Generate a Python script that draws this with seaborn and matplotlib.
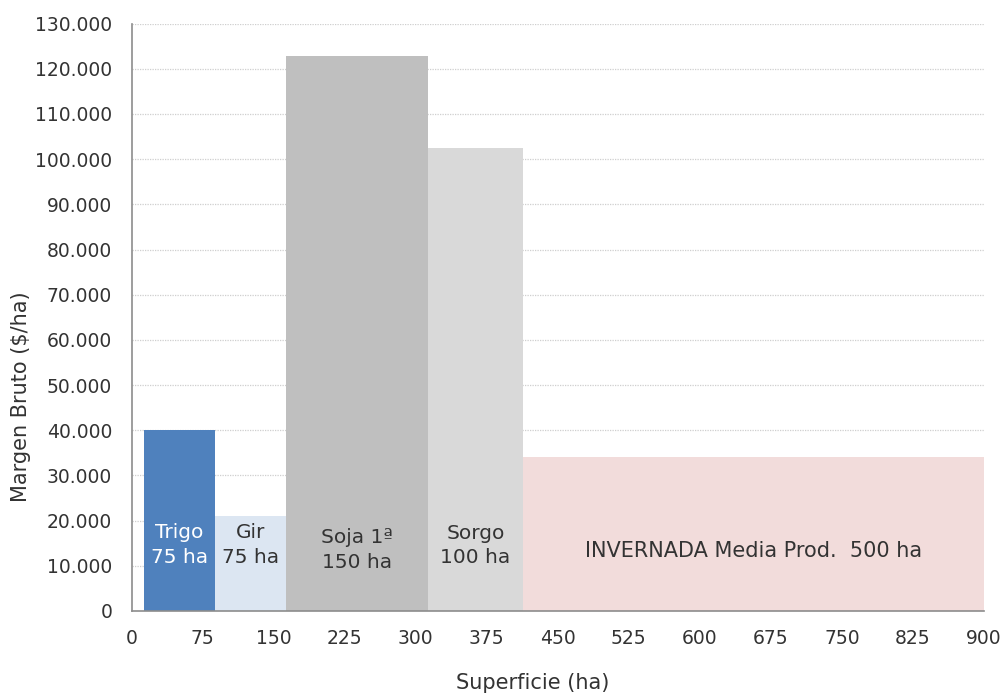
import numpy as np
import pandas as pd
import matplotlib
matplotlib.use("Agg")
import matplotlib.pyplot as plt
import seaborn as sns
from matplotlib.ticker import FuncFormatter

# data
cultivos = ["Trigo", "Gir", "Soja 1ª", "Sorgo", "INVERNADA Media Prod."]
superficie = [75, 75, 150, 100, 500]          # ha (bar widths)
margen = [40000, 20900, 122800, 102400, 34000]  # $/ha (bar heights)
etiquetas = ["Trigo\n75 ha", "Gir\n75 ha", "Soja 1ª\n150 ha", "Sorgo\n100 ha",
             "INVERNADA Media Prod.  500 ha"]
colores = ["#4F81BD", "#DCE6F2", "#BFBFBF", "#D9D9D9", "#F2DCDB"]
inicio = 13  # first bar starts a bit right of 0 in the original
x_ticks = list(range(0, 901, 75))
y_ticks = list(range(0, 130001, 10000))

edges = inicio + np.concatenate([[0], np.cumsum(superficie)])
mid = (edges[:-1] + edges[1:]) / 2
df = pd.DataFrame({"cultivo": cultivos, "x": mid, "margen": margen})

sns.set_style("white")
plt.rcParams["font.family"] = ["DejaVu Sans"]
txt = "#333333"

fig = plt.figure(figsize=(10.05, 6.95), dpi=100)
ax = fig.add_axes([0.131, 0.121, 0.848, 0.845])

sns.histplot(data=df, x="x", weights="margen", hue="cultivo", bins=edges.tolist(),
             palette=dict(zip(cultivos, colores)), alpha=1, linewidth=0,
             legend=False, ax=ax, zorder=2)

ax.set_xlim(0, 900)
ax.set_ylim(0, 130000)
ax.set_xticks(x_ticks)
ax.set_yticks(y_ticks)
ax.yaxis.set_major_formatter(FuncFormatter(lambda v, p: f"{v:,.0f}".replace(",", ".")))
ax.grid(axis="y", color="#CFCFCF", linestyle=(0, (1, 1)), linewidth=0.9, zorder=0)
ax.set_axisbelow(True)
ax.tick_params(labelsize=13.5, colors=txt, length=0)
ax.tick_params(axis="y", pad=14)
ax.tick_params(axis="x", pad=13)
for s in ["top", "right"]:
    ax.spines[s].set_visible(False)
for s in ["left", "bottom"]:
    ax.spines[s].set_color("#8C8C8C")
    ax.spines[s].set_linewidth(1.2)
    ax.spines[s].set_zorder(3)

ax.set_xlabel("Superficie (ha)", fontsize=15, color=txt)
ax.set_ylabel("Margen Bruto ($/ha)", fontsize=15, color=txt)
ax.xaxis.set_label_coords(0.471, -0.105)
ax.yaxis.set_label_coords(-0.118, 0.364)

# labels inside bars
lab_y = [14600, 14600, 13500, 14500, 13300]
lab_x = list(mid[:-1]) + [(edges[-2] + 900) / 2]
for xx, yy, t, c in zip(lab_x, lab_y, etiquetas, cultivos):
    col = "white" if c == "Trigo" else txt
    ax.text(xx, yy, t, ha="center", va="center", fontsize=14.5 if c != cultivos[-1] else 15,
            color=col, linespacing=1.35, zorder=4)

fig.savefig("out.png", dpi=100)
